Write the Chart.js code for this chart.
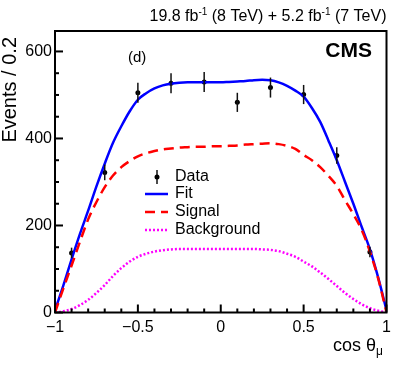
<!DOCTYPE html>
<html><head><meta charset="utf-8">
<script src="https://cdn.jsdelivr.net/npm/chart.js@4"></script>
<style>html,body{margin:0;padding:0;background:#fff}#wrap{width:399px;height:365px;position:relative}</style>
</head><body>
<div id="wrap"><canvas id="c"></canvas></div>
<script>
// ---- data ----
const dataX   = [-0.9, -0.7, -0.5, -0.3, -0.1, 0.1, 0.3, 0.5, 0.7, 0.9];
const dataY   = [137, 322, 505, 527, 530, 483, 517, 501, 361, 139];
const dataErr = [12, 18, 23, 23, 23, 22, 23, 22, 19, 12];

const curveX  = [-1, -0.95, -0.9, -0.85, -0.8, -0.75, -0.7, -0.65, -0.6, -0.55, -0.5, -0.45, -0.4, -0.35, -0.3, -0.25, -0.2, -0.15, -0.1, -0.05, 0, 0.05, 0.1, 0.15, 0.2, 0.25, 0.3, 0.35, 0.4, 0.45, 0.5, 0.55, 0.6, 0.65, 0.7, 0.75, 0.8, 0.85, 0.9, 0.95, 1];
const fitY    = [5, 62, 122, 180, 234, 290, 342, 390, 428, 462, 489, 504, 515, 522, 526, 528, 529, 529, 529, 529, 529, 530, 531, 532, 534, 535, 534, 529, 521, 510, 496, 470, 438, 395, 350, 300, 250, 197, 145, 80, 5];
const signalY = [0, 55, 108, 162, 214, 254, 288, 315, 334, 348, 359, 366, 371, 375, 377, 379, 380, 381, 381, 382, 382, 383, 384, 386, 387, 388, 389, 387, 383, 376, 362, 350, 334, 314, 291, 258, 226, 190, 140, 78, 0];
const bkgY    = [0, 3, 8, 17, 29, 45, 63, 84, 102, 117, 128, 135, 140, 143, 145, 146, 146, 146, 146, 146, 146, 146, 146, 146, 146, 145, 144, 141, 135, 128, 117, 106, 92, 77, 61, 45, 31, 19, 10, 4, 0];

const xMajorTicks = [-1, -0.5, 0, 0.5, 1];
const xTickLabels = ['\u22121', '\u22120.5', '0', '0.5', '1'];
const yMajorTicks = [0, 200, 400, 600];
const yTickLabels = ['0', '200', '400', '600'];
const legendLabels = ['Data', 'Fit', 'Signal', 'Background'];

const FONT = "'Liberation Sans', Arial, Helvetica, sans-serif";

const pts = (xs, ys) => xs.map((x, i) => ({x: x, y: ys[i]}));

const frame = {
  id: 'frame',
  afterDatasetsDraw(chart) {
    const ctx = chart.ctx, xs = chart.scales.x, ys = chart.scales.y;
    ctx.save();
    ctx.strokeStyle = '#111'; ctx.lineWidth = 1.5;
    dataX.forEach((x, i) => {
      const px = xs.getPixelForValue(x);
      ctx.beginPath();
      ctx.moveTo(px, ys.getPixelForValue(dataY[i] - dataErr[i]));
      ctx.lineTo(px, ys.getPixelForValue(dataY[i] + dataErr[i]));
      ctx.stroke();
    });
    ctx.restore();
  },
  afterDraw(chart) {
    const ctx = chart.ctx, xs = chart.scales.x, ys = chart.scales.y, a = chart.chartArea;
    ctx.save();
    ctx.strokeStyle = '#000'; ctx.lineWidth = 2;
    ctx.strokeRect(a.left, a.top, a.right - a.left, a.bottom - a.top);
    for (let k = 0; k <= 20; k++) {
      const v = -1 + k * 0.1;
      const px = xs.getPixelForValue(v);
      const major = (k % 5 === 0);
      ctx.beginPath(); ctx.moveTo(px, a.bottom); ctx.lineTo(px, a.bottom - (major ? 8 : 4)); ctx.stroke();
    }
    for (let v = 0; v <= 640; v += 50) {
      const py = ys.getPixelForValue(v);
      const major = (v % 200 === 0);
      ctx.beginPath(); ctx.moveTo(a.left, py); ctx.lineTo(a.left + (major ? 8 : 4), py); ctx.stroke();
    }
    ctx.fillStyle = '#000';
    ctx.font = '16px ' + FONT;
    ctx.textAlign = 'center'; ctx.textBaseline = 'middle';
    xMajorTicks.forEach((v, i) => ctx.fillText(xTickLabels[i], xs.getPixelForValue(v), a.bottom + 15));
    ctx.textAlign = 'right';
    yMajorTicks.forEach((v, i) => ctx.fillText(yTickLabels[i], a.left - 3, ys.getPixelForValue(v)));
    ctx.font = '18px ' + FONT; ctx.textAlign = 'right'; ctx.textBaseline = 'alphabetic';
    ctx.fillText('cos \u03b8', 376, 351);
    ctx.font = '12px ' + FONT; ctx.textAlign = 'left';
    ctx.fillText('\u03bc', 376, 355);
    ctx.save();
    ctx.translate(10, 37); ctx.rotate(-Math.PI / 2);
    ctx.font = '20px ' + FONT; ctx.textAlign = 'right'; ctx.textBaseline = 'middle';
    ctx.fillText('Events / 0.2', 0, 0);
    ctx.restore();
    const parts = [['19.8 fb', 16, 0], ['-1', 10, -6], [' (8 TeV) + 5.2 fb', 16, 0], ['-1', 10, -6], [' (7 TeV)', 16, 0]];
    let tot = 0;
    parts.forEach(p => { ctx.font = p[1] + 'px ' + FONT; tot += ctx.measureText(p[0]).width; });
    let cx = a.right - tot;
    ctx.textAlign = 'left'; ctx.textBaseline = 'alphabetic';
    parts.forEach(p => { ctx.font = p[1] + 'px ' + FONT; ctx.fillText(p[0], cx, 21 + p[2]); cx += ctx.measureText(p[0]).width; });
    ctx.font = 'bold 21px ' + FONT; ctx.textAlign = 'right'; ctx.textBaseline = 'middle';
    ctx.fillText('CMS', 372, 51);
    ctx.font = '15px ' + FONT; ctx.textAlign = 'left';
    ctx.fillText('(d)', 128, 58);
    const lx0 = 145, lx1 = 168, tx = 175;
    const rows = [177, 194, 212, 230];
    ctx.font = '16px ' + FONT; ctx.textBaseline = 'middle'; ctx.textAlign = 'left';
    legendLabels.forEach((t, i) => ctx.fillText(t, tx, rows[i]));
    ctx.strokeStyle = '#111'; ctx.lineWidth = 1.5;
    ctx.beginPath(); ctx.moveTo(157, rows[0] - 7); ctx.lineTo(157, rows[0] + 7); ctx.stroke();
    ctx.beginPath(); ctx.arc(157, rows[0], 2.5, 0, Math.PI * 2); ctx.fill();
    const styles = [['#0000ff', []], ['#ff0000', [10, 6]], ['#ff00ff', [2, 2]]];
    styles.forEach((s, i) => {
      ctx.strokeStyle = s[0]; ctx.lineWidth = 2.5; ctx.setLineDash(s[1]);
      ctx.beginPath(); ctx.moveTo(lx0, rows[i + 1]); ctx.lineTo(lx1, rows[i + 1]); ctx.stroke();
    });
    ctx.restore();
  }
};

new Chart(document.getElementById('c'), {
  type: 'scatter',
  data: {
    datasets: [
      { label: 'Background', data: pts(curveX, bkgY), showLine: true, borderColor: '#ff00ff', borderWidth: 2.5, borderDash: [2, 2], pointRadius: 0, cubicInterpolationMode: 'monotone' },
      { label: 'Signal', data: pts(curveX, signalY), showLine: true, borderColor: '#ff0000', borderWidth: 2.5, borderDash: [10, 6], pointRadius: 0, cubicInterpolationMode: 'monotone' },
      { label: 'Fit', data: pts(curveX, fitY), showLine: true, borderColor: '#0000ff', borderWidth: 2.5, pointRadius: 0, cubicInterpolationMode: 'monotone' },
      { label: 'Data', data: pts(dataX, dataY), showLine: false, pointRadius: 2.5, pointBackgroundColor: '#000', pointBorderColor: '#000', pointBorderWidth: 0 }
    ]
  },
  options: {
    responsive: true, maintainAspectRatio: false, animation: false,
    layout: { padding: { left: 55, right: 12.5, top: 31, bottom: 52.5 } },
    plugins: { legend: { display: false }, tooltip: { enabled: false } },
    scales: {
      x: { type: 'linear', min: -1, max: 1, display: false },
      y: { type: 'linear', min: 0, max: 647, display: false }
    }
  },
  plugins: [frame]
});
</script>
</body></html>
